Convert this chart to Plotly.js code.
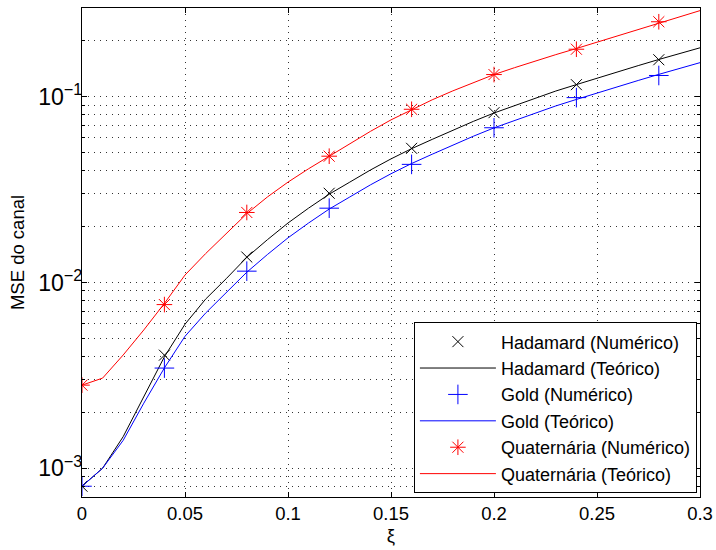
<!DOCTYPE html>
<html>
<head>
<meta charset="utf-8">
<script src="https://cdn.plot.ly/plotly-3.0.1.min.js"></script>
<style>html,body{margin:0;padding:0;background:#fff;}#chart{width:716px;height:550px;}</style>
</head>
<body>
<div id="chart"></div>
<script>
// Marker (numerical) abscissae
const xNum = [0, 0.04, 0.08, 0.12, 0.16, 0.20, 0.24, 0.28];
// Theoretical curve abscissae
const xTheo = [0, 0.01, 0.02, 0.03, 0.04, 0.05, 0.06, 0.07, 0.08, 0.09, 0.10,
  0.11, 0.12, 0.13, 0.14, 0.15, 0.16, 0.17, 0.18, 0.19, 0.20,
  0.21, 0.22, 0.23, 0.24, 0.25, 0.26, 0.27, 0.28, 0.29, 0.30];

const hadamardNum = [8.0e-4, 4.06e-3, 0.0137, 0.0302, 0.0527, 0.082, 0.116, 0.158];
const hadamardTheo = [8.0e-4, 1.0e-3, 1.479e-3, 2.415e-3, 3.98e-3, 5.96e-3, 8.13e-3, 0.01047,
  0.01365, 0.01698, 0.02089, 0.02512, 0.02985, 0.03467, 0.04027, 0.04624, 0.05248,
  0.05888, 0.06607, 0.07362, 0.08166, 0.08954, 0.09817, 0.1072, 0.1161, 0.1259,
  0.1361, 0.1469, 0.1585, 0.1706, 0.1832];

const goldNum = [8.0e-4, 3.46e-3, 0.0115, 0.0251, 0.0432, 0.068, 0.0988, 0.130];
const goldTheo = [8.0e-4, 1.0e-3, 1.413e-3, 2.239e-3, 3.467e-3, 5.13e-3, 6.84e-3, 8.81e-3,
  0.01135, 0.01413, 0.01738, 0.02089, 0.02483, 0.02884, 0.03350, 0.03846, 0.04365,
  0.04898, 0.05495, 0.06124, 0.06792, 0.07447, 0.08166, 0.08913, 0.09661, 0.1047,
  0.1132, 0.1222, 0.1318, 0.1419, 0.1524];

const quatNum = [2.8e-3, 7.6e-3, 0.0238, 0.0478, 0.0855, 0.1315, 0.180, 0.253];
const quatTheo = [2.80e-3, 3.055e-3, 4.07e-3, 5.55e-3, 7.71e-3, 0.01096, 0.01429, 0.01841,
  0.02344, 0.02884, 0.03467, 0.04093, 0.04764, 0.05598, 0.06501, 0.07499, 0.08531,
  0.09616, 0.1074, 0.1191, 0.1315, 0.1432, 0.1556, 0.1683, 0.1816, 0.1963,
  0.2123, 0.2296, 0.2483, 0.2685, 0.2904];

const names = ['Hadamard (Numérico)', 'Hadamard (Teórico)', 'Gold (Numérico)',
  'Gold (Teórico)', 'Quaternária (Numérico)', 'Quaternária (Teórico)'];
const xTicks = [0, 0.05, 0.1, 0.15, 0.2, 0.25, 0.3];
const xTickText = ['0', '0.05', '0.1', '0.15', '0.2', '0.25', '0.3'];

const FONT = 'Liberation Sans, Arial, Helvetica, sans-serif';
const FS = 18.5;

const traces = [
  {x: xNum, y: hadamardNum, name: names[0], mode: 'markers', type: 'scatter',
   marker: {symbol: 'x-thin-open', size: 11, color: '#000', line: {width: 1, color: '#000'}}},
  {x: xTheo, y: hadamardTheo, name: names[1], mode: 'lines', type: 'scatter',
   line: {color: '#000', width: 1}},
  {x: xNum, y: goldNum, name: names[2], mode: 'markers', type: 'scatter',
   marker: {symbol: 'cross-thin-open', size: 14, color: '#0000ff', line: {width: 1, color: '#0000ff'}}},
  {x: xTheo, y: goldTheo, name: names[3], mode: 'lines', type: 'scatter',
   line: {color: '#0000ff', width: 1}},
  {x: xNum, y: quatNum, name: names[4], mode: 'markers', type: 'scatter',
   marker: {symbol: 'asterisk-open', size: 13, color: '#ff0000', line: {width: 1, color: '#ff0000'}}},
  {x: xTheo, y: quatTheo, name: names[5], mode: 'lines', type: 'scatter',
   line: {color: '#ff0000', width: 1}}
];

const gridCol = '#333';
const layout = {
  width: 716, height: 550,
  margin: {l: 82, r: 16, t: 8, b: 53},
  paper_bgcolor: '#fff', plot_bgcolor: '#fff',
  font: {family: FONT, size: FS, color: '#000'},
  showlegend: true,
  legend: {x: 0.995, y: 0.357, xanchor: 'right', yanchor: 'top',
    bgcolor: '#fff', bordercolor: '#000', borderwidth: 1, itemwidth: 76,
    font: {family: FONT, size: 18, color: '#000'}, tracegroupgap: 0},
  xaxis: {
    range: [0, 0.3], tickvals: xTicks, ticktext: xTickText,
    ticks: 'inside', ticklen: 5, tickcolor: '#000', tickwidth: 1,
    showline: true, linecolor: '#000', linewidth: 1, mirror: 'allticks',
    showgrid: true, gridcolor: gridCol, gridwidth: 1, griddash: '1px,5px',
    zeroline: false,
    tickfont: {family: FONT, size: FS, color: '#000'},
    title: {text: 'ξ', font: {family: FONT, size: FS, color: '#000'}, standoff: 5}
  },
  yaxis: {
    type: 'log', range: [Math.log10(7e-4), Math.log10(0.3)],
    dtick: 1, exponentformat: 'power', ticklabelstandoff: -5,
    ticks: 'inside', ticklen: 5, tickcolor: '#000', tickwidth: 1,
    showline: true, linecolor: '#000', linewidth: 1, mirror: 'allticks',
    showgrid: true, gridcolor: gridCol, gridwidth: 1, griddash: '1px,5px',
    minor: {ticks: 'inside', ticklen: 3, tickcolor: '#000', showgrid: true,
      gridcolor: gridCol, gridwidth: 1, griddash: '1px,5px'},
    zeroline: false,
    tickfont: {family: FONT, size: FS, color: '#000'},
    title: {text: 'MSE do canal', font: {family: FONT, size: FS, color: '#000'}, standoff: 8}
  }
};

Plotly.newPlot('chart', traces, layout, {displayModeBar: false, staticPlot: true});
</script>
</body>
</html>
